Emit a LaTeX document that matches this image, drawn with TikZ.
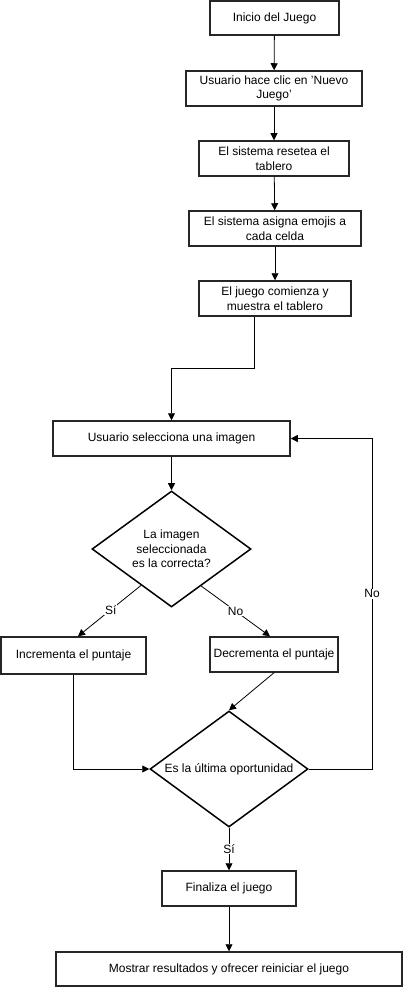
\documentclass[tikz,border=0pt]{standalone}
\usepackage{fontspec}
\setmainfont{Liberation Sans}[Ligatures=ResetAll]
\usetikzlibrary{arrows.meta,shapes.geometric,calc}
\begin{document}
\begin{tikzpicture}[x=1pt,y=-1pt,
  box/.style={draw=black!85,line width=1.5pt,rectangle,inner sep=0pt,align=center,font=\fontsize{12}{14.7}\selectfont,fill=white},
  dec/.style={draw=black,line width=1.5pt,diamond,inner sep=0pt},
  dtext/.style={align=center,font=\fontsize{12}{14.7}\selectfont},
  conn/.style={draw=black,line width=0.8pt,-{Triangle[length=7pt,width=7pt]}},
  lab/.style={fill=white,inner sep=1pt,font=\fontsize{12}{13}\selectfont}]
\useasboundingbox (0,0) rectangle (403,987);
\node[box,minimum width=129pt,minimum height=34pt] (b1) at (274.5,18) {Inicio del Juego};
\node[box,minimum width=176pt,minimum height=35pt] (b2) at (274,88.5) {Usuario hace clic en 'Nuevo\\Juego'};
\node[box,minimum width=150pt,minimum height=35pt] (b3) at (274,158.5) {El sistema resetea el\\tablero};
\node[box,minimum width=172pt,minimum height=35pt] (b4) at (275,228.5) {El sistema asigna emojis a\\cada celda};
\node[box,minimum width=152pt,minimum height=35pt] (b5) at (275,298.5) {El juego comienza y\\muestra el tablero};
\node[box,minimum width=237pt,minimum height=35pt] (b6) at (171.5,438.5) {Usuario selecciona una imagen};
\node[dec,minimum width=159pt,minimum height=116pt] (d1) at (171.5,549) {};
\node[dtext] (t1) at (171.5,549) {La imagen\\seleccionada\\es la correcta?};
\node[box,minimum width=145pt,minimum height=37pt] (b7) at (73.5,655.5) {Incrementa el puntaje};
\node[box,minimum width=128pt,minimum height=35pt] (b8) at (274,654.5) {Decrementa el puntaje};
\node[dec,minimum width=158pt,minimum height=116pt] (d2) at (229,769) {};
\node[dtext] (t2) at (229,769) {Es la última oportunidad};
\node[box,minimum width=134pt,minimum height=35pt] (b9) at (229,888.5) {Finaliza el juego};
\node[box,minimum width=346pt,minimum height=34pt] (b10) at (229,969) {Mostrar resultados y ofrecer reiniciar el juego};

\coordinate (c5) at (254,368);
\coordinate (cr) at (372,769);

\draw[conn] (b1) -- (b2);
\draw[conn] (b2) -- (b3);
\draw[conn] (b3) -- (b4);
\draw[conn] (b4) -- (b5);
\draw[conn] (b5.south -| c5) -- (c5) -| (b6.north);
\draw[conn] (b6) -- (d1);
\draw[conn] ($(d1.west)!0.62!(d1.south)$) -- node[lab,pos=0.48]{Sí} ($(b7.north)+(4.5,0)$);
\draw[conn] ($(d1.south)!0.37!(d1.east)$) -- node[lab,pos=0.5]{No} ($(b8.north)+(-4,0)$);
\draw[conn] (b8.south) -- (d2.north);
\draw[conn] (b7.south) |- (d2.west);
\draw[conn] (d2.east) -- (cr) |- node[lab,pos=0.265]{No} (b6.east);
\draw[conn] (d2.south) -- node[lab,pos=0.5]{Sí} (b9.north);
\draw[conn] (b9) -- (b10);
\end{tikzpicture}
\end{document}
